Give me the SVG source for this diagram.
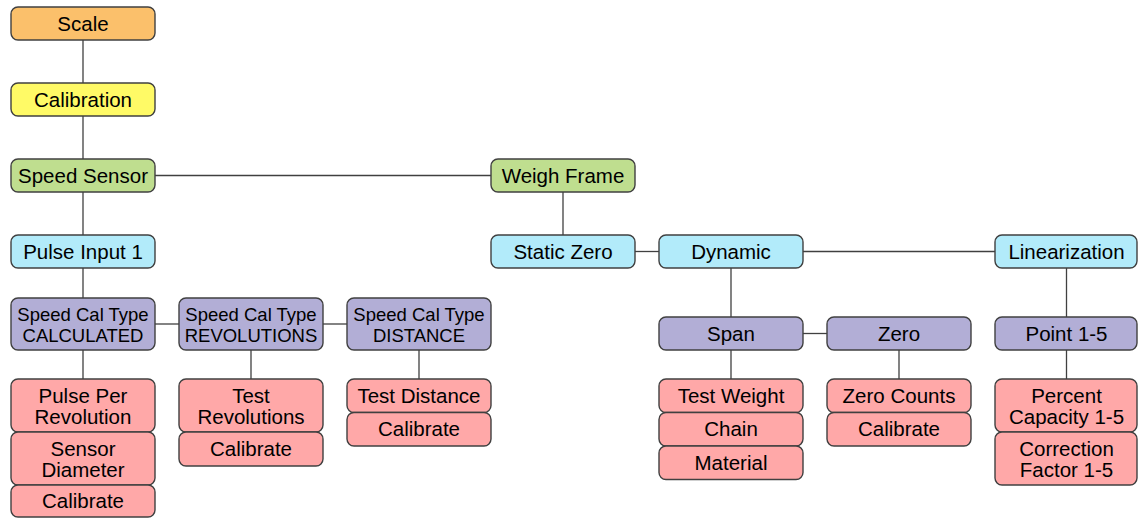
<svg xmlns="http://www.w3.org/2000/svg" width="1138" height="518" viewBox="0 0 1138 518">
<style>
rect{stroke:#404040;stroke-width:1.4}
.or{fill:#FBC06B}.ye{fill:#FFFA66}.gr{fill:#BFDE8F}.cy{fill:#B2EBFA}.pu{fill:#B2AED6}.rd{fill:#FFA8A8}
text{font-family:"Liberation Sans",Arial,sans-serif;font-size:20.5px;fill:#000;text-anchor:middle}
.sm{font-size:18.5px}
#edges line{stroke:#404040;stroke-width:1.3}
</style>
<rect width="1138" height="518" fill="#fff" style="stroke:none"/>
<g id="edges">
<line x1="83" y1="40" x2="83" y2="83"/>
<line x1="83" y1="116" x2="83" y2="159"/>
<line x1="83" y1="192" x2="83" y2="235"/>
<line x1="83" y1="268" x2="83" y2="298"/>
<line x1="83" y1="350" x2="83" y2="379"/>
<line x1="155" y1="175.5" x2="491" y2="175.5"/>
<line x1="563" y1="192" x2="563" y2="235"/>
<line x1="635" y1="251.5" x2="659" y2="251.5"/>
<line x1="803" y1="251.5" x2="995" y2="251.5"/>
<line x1="731" y1="268" x2="731" y2="317"/>
<line x1="731" y1="350" x2="731" y2="379"/>
<line x1="803" y1="333.5" x2="827" y2="333.5"/>
<line x1="899" y1="350" x2="899" y2="379"/>
<line x1="1066.5" y1="268" x2="1066.5" y2="317"/>
<line x1="1066.5" y1="350" x2="1066.5" y2="379"/>
<line x1="155" y1="324" x2="179" y2="324"/>
<line x1="323" y1="324" x2="347" y2="324"/>
<line x1="251" y1="350" x2="251" y2="379"/>
<line x1="419" y1="350" x2="419" y2="379"/>
</g>
<g id="scale"><rect class="or" x="11" y="7" width="144" height="33" rx="7"/><text x="83" y="30.5">Scale</text></g>
<g id="calibration"><rect class="ye" x="11" y="83" width="144" height="33" rx="7"/><text x="83" y="106.5">Calibration</text></g>
<g id="speed-sensor"><rect class="gr" x="11" y="159" width="144" height="33" rx="7"/><text x="83" y="182.5">Speed Sensor</text></g>
<g id="weigh-frame"><rect class="gr" x="491" y="159" width="144" height="33" rx="7"/><text x="563" y="182.5">Weigh Frame</text></g>
<g id="pulse-input"><rect class="cy" x="11" y="235" width="144" height="33" rx="7"/><text x="83" y="258.5">Pulse Input 1</text></g>
<g id="static-zero"><rect class="cy" x="491" y="235" width="144" height="33" rx="7"/><text x="563" y="258.5">Static Zero</text></g>
<g id="dynamic"><rect class="cy" x="659" y="235" width="144" height="33" rx="7"/><text x="731" y="258.5">Dynamic</text></g>
<g id="linearization"><rect class="cy" x="995" y="235" width="142" height="33" rx="7"/><text x="1066.5" y="258.5">Linearization</text></g>
<g id="sct-calculated"><rect class="pu" x="11" y="298" width="144" height="52" rx="7"/><text class="sm" x="83" y="320.5">Speed Cal Type</text><text class="sm" x="83" y="341.5">CALCULATED</text></g>
<g id="sct-revolutions"><rect class="pu" x="179" y="298" width="144" height="52" rx="7"/><text class="sm" x="251" y="320.5">Speed Cal Type</text><text class="sm" x="251" y="341.5">REVOLUTIONS</text></g>
<g id="sct-distance"><rect class="pu" x="347" y="298" width="144" height="52" rx="7"/><text class="sm" x="419" y="320.5">Speed Cal Type</text><text class="sm" x="419" y="341.5">DISTANCE</text></g>
<g id="span"><rect class="pu" x="659" y="317" width="144" height="33" rx="7"/><text x="731" y="340.5">Span</text></g>
<g id="zero"><rect class="pu" x="827" y="317" width="144" height="33" rx="7"/><text x="899" y="340.5">Zero</text></g>
<g id="point"><rect class="pu" x="995" y="317" width="142" height="33" rx="7"/><text x="1066.5" y="340.5">Point 1-5</text></g>
<g id="pulse-per-rev"><rect class="rd" x="11" y="379" width="144" height="53" rx="7"/><text x="83" y="403">Pulse Per</text><text x="83" y="424">Revolution</text></g>
<g id="sensor-diameter"><rect class="rd" x="11" y="432" width="144" height="53" rx="7"/><text x="83" y="456">Sensor</text><text x="83" y="477">Diameter</text></g>
<g id="calibrate-1"><rect class="rd" x="11" y="485" width="144" height="32" rx="7"/><text x="83" y="508">Calibrate</text></g>
<g id="test-revolutions"><rect class="rd" x="179" y="379" width="144" height="53" rx="7"/><text x="251" y="403">Test</text><text x="251" y="424">Revolutions</text></g>
<g id="calibrate-2"><rect class="rd" x="179" y="432" width="144" height="34" rx="7"/><text x="251" y="456">Calibrate</text></g>
<g id="test-distance"><rect class="rd" x="347" y="379" width="144" height="33.5" rx="7"/><text x="419" y="402.5">Test Distance</text></g>
<g id="calibrate-3"><rect class="rd" x="347" y="412.5" width="144" height="33.5" rx="7"/><text x="419" y="436">Calibrate</text></g>
<g id="test-weight"><rect class="rd" x="659" y="379" width="144" height="33.5" rx="7"/><text x="731" y="402.5">Test Weight</text></g>
<g id="chain"><rect class="rd" x="659" y="412.5" width="144" height="33.5" rx="7"/><text x="731" y="436">Chain</text></g>
<g id="material"><rect class="rd" x="659" y="446" width="144" height="33.5" rx="7"/><text x="731" y="469.5">Material</text></g>
<g id="zero-counts"><rect class="rd" x="827" y="379" width="144" height="33.5" rx="7"/><text x="899" y="402.5">Zero Counts</text></g>
<g id="calibrate-4"><rect class="rd" x="827" y="412.5" width="144" height="33.5" rx="7"/><text x="899" y="436">Calibrate</text></g>
<g id="percent-capacity"><rect class="rd" x="995" y="379" width="142" height="53" rx="7"/><text x="1066.5" y="403">Percent</text><text x="1066.5" y="424">Capacity 1-5</text></g>
<g id="correction-factor"><rect class="rd" x="995" y="432" width="142" height="53" rx="7"/><text x="1066.5" y="456">Correction</text><text x="1066.5" y="477">Factor 1-5</text></g>
</svg>
